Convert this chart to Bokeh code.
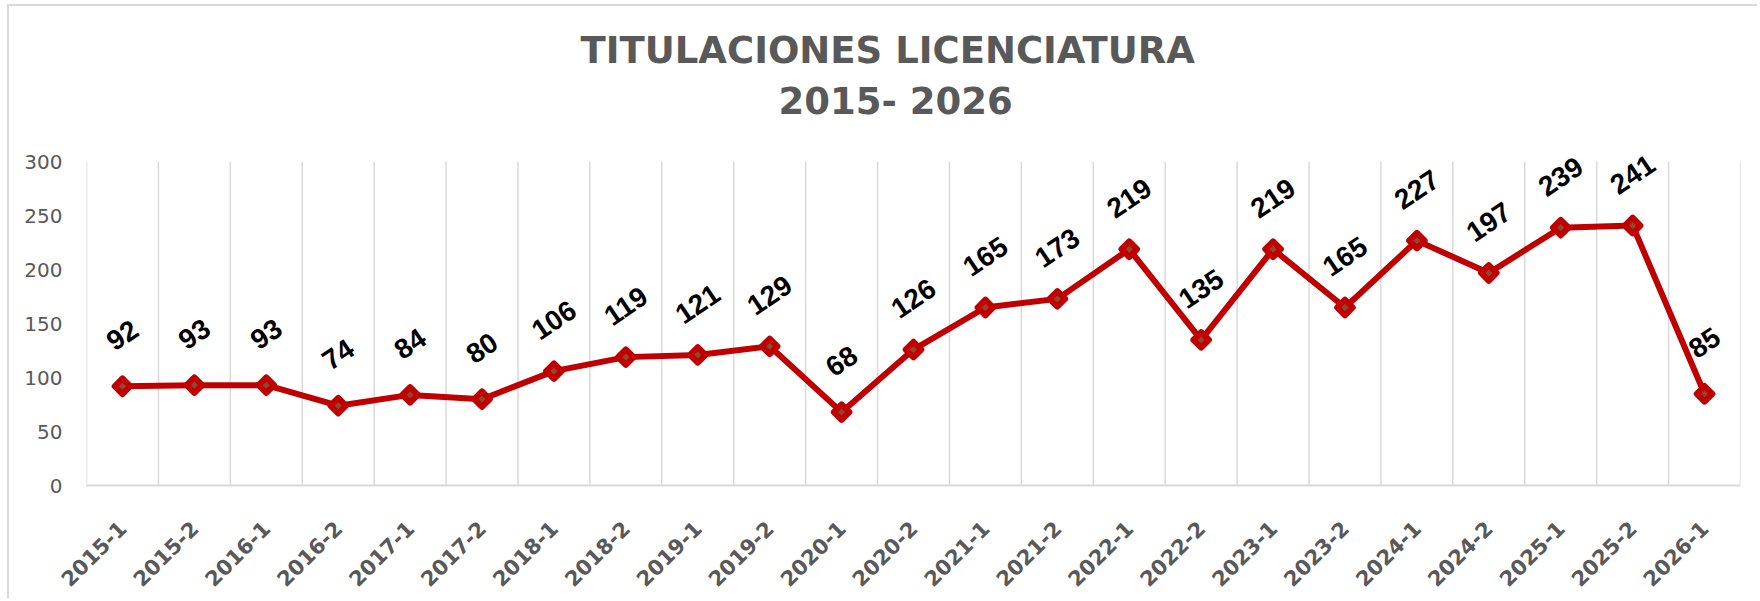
import math
from bokeh.plotting import figure
from bokeh.models import ColumnDataSource, FactorRange, Range1d, FixedTicker, Title
from bokeh.core.properties import value
from bokeh.embed import file_html
from bokeh.resources import INLINE

# ---- data -------------------------------------------------------------
periods = ["2015-1", "2015-2", "2016-1", "2016-2", "2017-1", "2017-2",
           "2018-1", "2018-2", "2019-1", "2019-2", "2020-1", "2020-2",
           "2021-1", "2021-2", "2022-1", "2022-2", "2023-1", "2023-2",
           "2024-1", "2024-2", "2025-1", "2025-2", "2026-1"]
titulaciones = [92, 93, 93, 74, 84, 80, 106, 119, 121, 129, 68, 126,
                165, 173, 219, 135, 219, 165, 227, 197, 239, 241, 85]
y_ticks = [0, 50, 100, 150, 200, 250, 300]
title_line1 = "TITULACIONES LICENCIATURA"
title_line2 = "2015- 2026"

# ---- styles -----------------------------------------------------------
RED = "#C00000"
BROWN = "#8B4A2B"
GRAY_TXT = "#595959"
GRAY_LINE = "#D9D9D9"
Y_HEADROOM = 330   # room above the 300 line so data labels are not clipped

source = ColumnDataSource(dict(
    period=periods,
    value=titulaciones,
    label=[str(v) for v in titulaciones],
))

p = figure(
    width=1750, height=594,
    x_range=FactorRange(*periods, range_padding=0),
    y_range=Range1d(y_ticks[0], Y_HEADROOM),
    output_backend="svg", toolbar_location=None,
    min_border_left=77, min_border_right=19,
    min_border_top=123, min_border_bottom=115,
)
p.styles = {"margin-left": "7px", "margin-top": "4px",
            "border-left": f"2px solid {GRAY_LINE}",
            "border-top": f"2px solid {GRAY_LINE}"}
p.outline_line_color = None
p.background_fill_color = "white"
p.border_fill_color = "white"
p.xgrid.grid_line_color = None
p.ygrid.grid_line_color = None

# vertical grid lines at category boundaries
bounds = list(range(len(periods) + 1))
p.segment(x0=bounds, y0=[y_ticks[0]] * len(bounds),
          x1=bounds, y1=[y_ticks[-1]] * len(bounds),
          line_color=GRAY_LINE, line_width=1.5, level="underlay")

# series
p.line(x="period", y="value", source=source, line_color=RED,
       line_width=6, line_join="round")
p.scatter(x="period", y="value", source=source, marker="square",
          angle=math.pi / 4, size=11, fill_color=BROWN,
          line_color=RED, line_width=6, line_join="round")

# data labels
p.text(x="period", y="value", text="label", source=source,
       angle=math.radians(34), text_align="center", text_baseline="middle",
       y_offset=-51, text_font=value("Liberation Sans"),
       text_font_size="28px", text_font_style="bold", text_color="black")

# axes
xa = p.xaxis[0]
xa.major_label_orientation = math.pi / 4
xa.major_label_text_font = "DejaVu Sans"
xa.major_label_text_font_size = "21px"
xa.major_label_text_font_style = "bold"
xa.major_label_text_color = GRAY_TXT
xa.major_tick_line_color = None
xa.minor_tick_line_color = None
xa.axis_line_color = GRAY_LINE
xa.axis_line_width = 2
xa.major_label_standoff = 33

ya = p.yaxis[0]
ya.ticker = FixedTicker(ticks=y_ticks)
ya.axis_line_color = None
ya.major_tick_line_color = None
ya.minor_tick_line_color = None
ya.major_tick_out = 0
ya.major_label_standoff = 24
ya.major_label_text_font = "DejaVu Sans"
ya.major_label_text_font_size = "20px"
ya.major_label_text_color = GRAY_TXT

# titles (first added sits closest to the plot)
t2 = Title(text=title_line2, align="left", offset=692, standoff=14,
           text_font="DejaVu Sans", text_font_size="37px",
           text_font_style="bold", text_color=GRAY_TXT)
t1 = Title(text=title_line1, align="left", offset=494, standoff=-2,
           text_font="DejaVu Sans", text_font_size="37px",
           text_font_style="bold", text_color=GRAY_TXT)
p.add_layout(t2, "above")
p.add_layout(t1, "above")

open("out.html", "w").write(file_html(p, INLINE))
